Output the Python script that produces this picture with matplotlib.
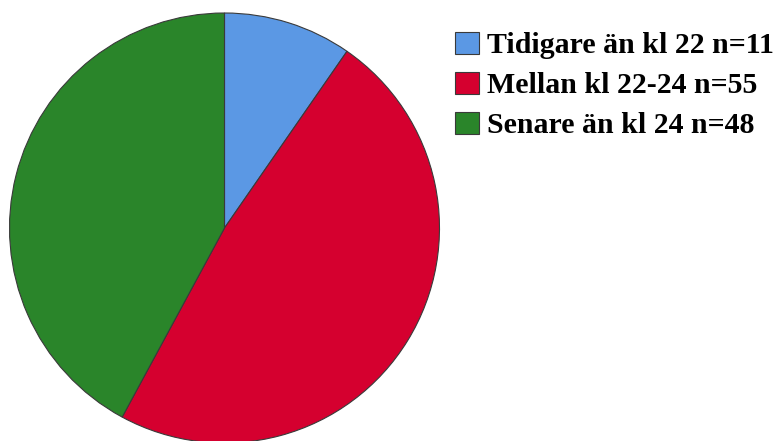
import matplotlib
matplotlib.use("Agg")
import matplotlib.pyplot as plt

labels = ["Tidigare än kl 22 n=11", "Mellan kl 22-24 n=55", "Senare än kl 24 n=48"]
counts = [11, 55, 48]
colors = ["#5b98e4", "#d5002f", "#2a852a"]

W, H = 783, 441
fig = plt.figure(figsize=(W / 100, H / 100), dpi=100)

# pie placed in pixel units: centre (224.5, 213 from bottom), radius 215
cx, cy, r = 224.5, 213.0, 215.0
ax = fig.add_axes([(cx - r) / W, (cy - r) / H, 2 * r / W, 2 * r / H])
wedges, _ = ax.pie(counts, colors=colors, startangle=90, counterclock=False,
                   radius=1.0, wedgeprops=dict(edgecolor="#3a3a3a", linewidth=0.8))
for w in wedges:
    w.set_clip_on(False)
ax.set_xlim(-1, 1)
ax.set_ylim(-1, 1)
ax.set_aspect("auto")
ax.axis("off")

leg = fig.legend(wedges, labels, loc="upper left",
                 bbox_to_anchor=(455 / W, 1 - 32 / H),
                 frameon=False,
                 prop=dict(family="Liberation Serif", weight="bold", size=21.5),
                 handlelength=0.8, handleheight=0.75, handletextpad=0.28,
                 labelspacing=0.42, borderpad=0.0, borderaxespad=0.0)

fig.savefig("out.png", dpi=100)
